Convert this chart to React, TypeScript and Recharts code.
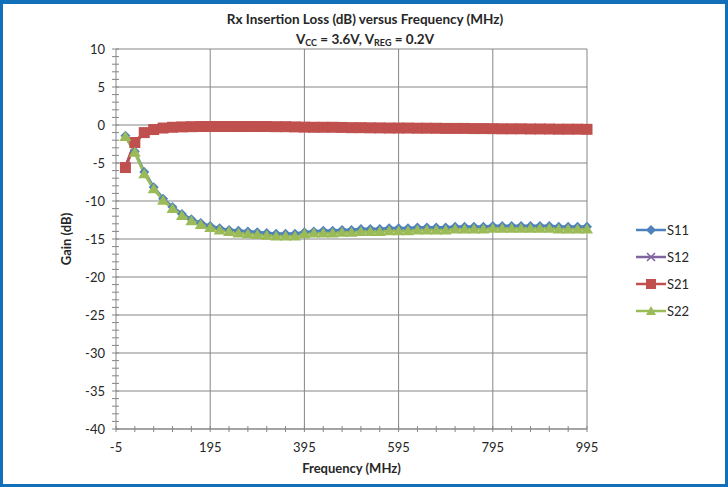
import React from 'react';
import { CartesianGrid, Line, LineChart, XAxis, YAxis } from 'recharts';

const frequency = [
    15, 35, 55, 75, 95, 115, 135, 155, 175, 195,
    215, 235, 255, 275, 295, 315, 335, 355, 375, 395,
    415, 435, 455, 475, 495, 515, 535, 555, 575, 595,
    615, 635, 655, 675, 695, 715, 735, 755, 775, 795,
    815, 835, 855, 875, 895, 915, 935, 955, 975, 995,
];

const s11 = [
    -1.4, -3.5, -6.2, -8.2, -9.7, -10.8, -11.7, -12.4, -12.9, -13.3,
    -13.6, -13.8, -13.9, -14.0, -14.1, -14.2, -14.3, -14.3, -14.3, -14.1,
    -14.0, -13.9, -13.9, -13.8, -13.8, -13.7, -13.7, -13.7, -13.6, -13.6,
    -13.6, -13.5, -13.5, -13.5, -13.5, -13.4, -13.4, -13.4, -13.4, -13.3,
    -13.3, -13.3, -13.3, -13.3, -13.3, -13.3, -13.4, -13.4, -13.4, -13.4,
];

const s12 = [
    -5.6, -2.3, -1.0, -0.6, -0.4, -0.3, -0.25, -0.22, -0.2, -0.2,
    -0.2, -0.2, -0.2, -0.2, -0.2, -0.2, -0.22, -0.22, -0.25, -0.28,
    -0.3, -0.3, -0.3, -0.32, -0.35, -0.35, -0.37, -0.38, -0.4, -0.4,
    -0.4, -0.42, -0.42, -0.43, -0.45, -0.45, -0.45, -0.47, -0.47, -0.48,
    -0.5, -0.5, -0.5, -0.52, -0.52, -0.53, -0.55, -0.55, -0.55, -0.57,
];

const s21 = [
    -5.6, -2.3, -1.0, -0.6, -0.4, -0.3, -0.25, -0.22, -0.2, -0.2,
    -0.2, -0.2, -0.2, -0.2, -0.2, -0.2, -0.22, -0.22, -0.25, -0.28,
    -0.3, -0.3, -0.3, -0.32, -0.35, -0.35, -0.37, -0.38, -0.4, -0.4,
    -0.4, -0.42, -0.42, -0.43, -0.45, -0.45, -0.45, -0.47, -0.47, -0.48,
    -0.5, -0.5, -0.5, -0.52, -0.52, -0.53, -0.55, -0.55, -0.55, -0.57,
];

const s22 = [
    -1.5, -3.6, -6.4, -8.4, -9.9, -11.0, -11.9, -12.6, -13.1, -13.5,
    -13.8, -14.0, -14.2, -14.3, -14.4, -14.5, -14.6, -14.6, -14.6, -14.3,
    -14.2, -14.2, -14.2, -14.1, -14.1, -14.0, -14.0, -14.0, -13.9, -13.9,
    -13.9, -13.8, -13.8, -13.8, -13.8, -13.7, -13.7, -13.7, -13.7, -13.6,
    -13.6, -13.6, -13.6, -13.6, -13.6, -13.6, -13.7, -13.7, -13.7, -13.7,
];

const xTicks = [-5, 35, 75, 115, 155, 195, 235, 275, 315, 355, 395, 435, 475, 515, 555, 595, 635, 675, 715, 755, 795, 835, 875, 915, 955, 995];
const xLabels = [-5, 195, 395, 595, 795, 995];
const yTicks = [
    10, 9, 8, 7, 6, 5, 4, 3, 2, 1, 0, -1, -2, -3, -4, -5, -6, -7, -8, -9, -10,
    -11, -12, -13, -14, -15, -16, -17, -18, -19, -20, -21, -22, -23, -24, -25,
    -26, -27, -28, -29, -30, -31, -32, -33, -34, -35, -36, -37, -38, -39, -40,
];
const yLabels = [10, 5, 0, -5, -10, -15, -20, -25, -30, -35, -40];

const colors = { s11: '#4F81BD', s12: '#8064A2', s21: '#C0504D', s22: '#9BBB59' };
const font = 'Lato, "Open Sans", sans-serif';
const axisColor = '#868686';
const textColor = '#262626';

const data = frequency.map((f, i) => ({ f, s11: s11[i], s12: s12[i], s21: s21[i], s22: s22[i] }));

const YTick = ({ x, y, payload }: any) => {
    const ax = x + 6;
    return (
        <g>
            <line x1={ax - 4} x2={ax + 3} y1={y} y2={y} stroke={axisColor} />
            {yLabels.includes(payload.value) && (
                <text x={ax - 11} y={y} dy={5} textAnchor="end" fontSize={13} fill={textColor} fontFamily={font}>
                    {payload.value}
                </text>
            )}
        </g>
    );
};

const XTick = ({ x, y, payload }: any) => {
    const ay = y - 6;
    return (
        <g>
            <line x1={x} x2={x} y1={ay - 3} y2={ay + 3} stroke={axisColor} />
            {xLabels.includes(payload.value) && (
                <text x={x} y={ay + 23} textAnchor="middle" fontSize={13} fill={textColor} fontFamily={font}>
                    {payload.value}
                </text>
            )}
        </g>
    );
};

const diamond = (p: any) => (
    <path key={`d${p.index}`} d={`M${p.cx},${p.cy - 5}L${p.cx + 5},${p.cy}L${p.cx},${p.cy + 5}L${p.cx - 5},${p.cy}Z`} fill={colors.s11} />
);
const cross = (p: any) => (
    <path key={`x${p.index}`} d={`M${p.cx - 4},${p.cy - 4}L${p.cx + 4},${p.cy + 4}M${p.cx - 4},${p.cy + 4}L${p.cx + 4},${p.cy - 4}`} stroke={colors.s12} strokeWidth={1.5} fill="none" />
);
const square = (p: any) => (
    <rect key={`s${p.index}`} x={p.cx - 5.5} y={p.cy - 5.5} width={11} height={11} fill={colors.s21} />
);
const triangle = (p: any) => (
    <path key={`t${p.index}`} d={`M${p.cx},${p.cy - 5.5}L${p.cx + 6},${p.cy + 4.5}L${p.cx - 6},${p.cy + 4.5}Z`} fill={colors.s22} />
);

const legendItems = [
    { name: 'S11', color: colors.s11, marker: 'diamond' },
    { name: 'S12', color: colors.s12, marker: 'cross' },
    { name: 'S21', color: colors.s21, marker: 'square' },
    { name: 'S22', color: colors.s22, marker: 'triangle' },
];

const LegendIcon = ({ color, marker }: { color: string; marker: string }) => (
    <svg width={30} height={12} style={{ display: 'block' }}>
        <line x1={0} x2={30} y1={6} y2={6} stroke={color} strokeWidth={2.5} />
        {marker === 'diamond' && <path d="M15,1L20,6L15,11L10,6Z" fill={color} />}
        {marker === 'cross' && <path d="M11,2L19,10M11,10L19,2" stroke={color} strokeWidth={1.5} />}
        {marker === 'square' && <rect x={10} y={1} width={10} height={10} fill={color} />}
        {marker === 'triangle' && <path d="M15,1L20,10L10,10Z" fill={color} />}
    </svg>
);

export default function App() {
    return (
        <div style={{ position: 'absolute', left: 0, top: 0, width: 728, height: 487, background: '#fff', fontFamily: font }}>
            <div style={{ position: 'absolute', left: 0, top: 0, width: 728, height: 487, boxSizing: 'border-box', borderStyle: 'solid', borderColor: '#1170B9', borderWidth: '4px 3px 3px 3px' }} />
            <div style={{ position: 'absolute', left: 0, top: 9, width: 730, textAlign: 'center', fontSize: 13.5, fontWeight: 700, color: textColor, lineHeight: '20px' }}>
                <div>Rx Insertion Loss (dB) versus Frequency (MHz)</div>
                <div>
                    V<span style={{ fontSize: 9, verticalAlign: -2 }}>CC</span> = 3.6V, V<span style={{ fontSize: 9, verticalAlign: -2 }}>REG</span> = 0.2V
                </div>
            </div>
            <div style={{ position: 'absolute', left: 0, top: 0 }}>
                <LineChart width={728} height={487} data={data} margin={{ top: 49, right: 141, bottom: 28, left: 66 }}>
                    <CartesianGrid
                        stroke={axisColor}
                        horizontalValues={yLabels}
                        verticalValues={[195, 395, 595, 795, 995]}
                    />
                    <XAxis
                        dataKey="f"
                        type="number"
                        domain={[-5, 995]}
                        ticks={xTicks}
                        interval={0}
                        tickSize={0}
                        tickMargin={6}
                        tickLine={false}
                        axisLine={{ stroke: axisColor }}
                        tick={<XTick />}
                        height={30}
                        label={(props: any) => (
                            <text x={props.viewBox.x + props.viewBox.width / 2} y={props.viewBox.y + 44} textAnchor="middle" fontSize={13} fontWeight={700} fill={textColor} fontFamily={font}>
                                Frequency (MHz)
                            </text>
                        )}
                    />
                    <YAxis
                        type="number"
                        domain={[-40, 10]}
                        ticks={yTicks}
                        interval={0}
                        tickSize={0}
                        tickMargin={6}
                        tickLine={false}
                        axisLine={{ stroke: axisColor }}
                        tick={<YTick />}
                        width={50}
                        label={(props: any) => (
                            <text
                                x={props.viewBox.x + 1}
                                y={props.viewBox.y + props.viewBox.height / 2}
                                transform={`rotate(-90, ${props.viewBox.x + 1}, ${props.viewBox.y + props.viewBox.height / 2})`}
                                textAnchor="middle"
                                dy={4}
                                fontSize={13}
                                fontWeight={700}
                                fill={textColor}
                                fontFamily={font}
                            >
                                Gain (dB)
                            </text>
                        )}
                    />
                    <Line dataKey="s11" stroke={colors.s11} strokeWidth={3} dot={diamond} isAnimationActive={false} />
                    <Line dataKey="s12" stroke={colors.s12} strokeWidth={3} dot={cross} isAnimationActive={false} />
                    <Line dataKey="s21" stroke={colors.s21} strokeWidth={3} dot={square} isAnimationActive={false} />
                    <Line dataKey="s22" stroke={colors.s22} strokeWidth={3} dot={triangle} isAnimationActive={false} />
                </LineChart>
            </div>
            <div style={{ position: 'absolute', left: 636, top: 216 }}>
                {legendItems.map(item => (
                    <div key={item.name} style={{ display: 'flex', alignItems: 'center', height: 27, fontSize: 13, color: textColor }}>
                        <LegendIcon color={item.color} marker={item.marker} />
                        <span style={{ marginLeft: 1 }}>{item.name}</span>
                    </div>
                ))}
            </div>
        </div>
    );
}
